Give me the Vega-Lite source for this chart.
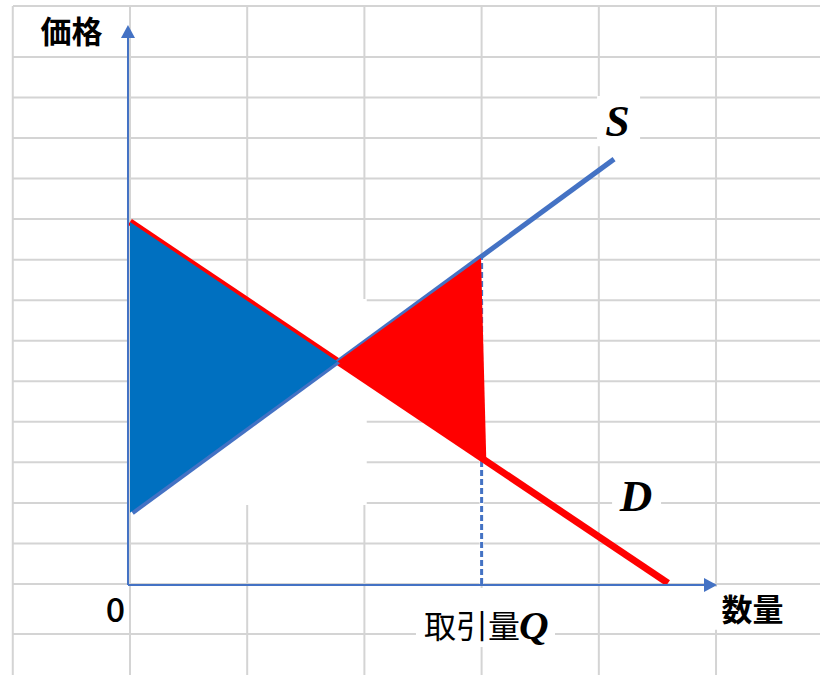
{
  "$schema": "https://vega.github.io/schema/vega-lite/v6.json",
  "width": 820,
  "height": 675,
  "padding": 0,
  "autosize": {"type": "none"},
  "background": "white",
  "config": {"view": {"stroke": null}},
  "datasets": {
    "vgrid": [
      {"q": -1, "pa": 14.257, "pb": -2.245}, {"q": 0, "pa": 14.257, "pb": -2.245}, {"q": 1, "pa": 14.257, "pb": -2.245},
      {"q": 2, "pa": 14.257, "pb": -2.245}, {"q": 3, "pa": 14.257, "pb": -2.245}, {"q": 4, "pa": 14.257, "pb": -2.245},
      {"q": 5, "pa": 14.257, "pb": -2.245}
    ],
    "hgrid": [
      {"p": -1.233, "qa": -0.998, "qb": 5.887}, {"p": 0, "qa": -0.998, "qb": 5.887}, {"p": 1, "qa": -0.998, "qb": 5.887},
      {"p": 2, "qa": -0.998, "qb": 5.887}, {"p": 3, "qa": -0.998, "qb": 5.887}, {"p": 4, "qa": -0.998, "qb": 5.887},
      {"p": 5, "qa": -0.998, "qb": 5.887}, {"p": 6, "qa": -0.998, "qb": 5.887}, {"p": 7, "qa": -0.998, "qb": 5.887},
      {"p": 8, "qa": -0.998, "qb": 5.887}, {"p": 9, "qa": -0.998, "qb": 5.887}, {"p": 10, "qa": -0.998, "qb": 5.887},
      {"p": 11, "qa": -0.998, "qb": 5.887}, {"p": 12, "qa": -0.998, "qb": 5.887}, {"p": 13, "qa": -0.998, "qb": 5.887},
      {"p": 14.257, "qa": -0.998, "qb": 5.887}
    ],
    "blank": [
      {"q": 0.009, "q2": 2.02, "p": 1.95, "p2": 7.03},
      {"q": 3.985, "q2": 4.352, "p": 10.8, "p2": 12.04},
      {"q": 4.113, "q2": 4.531, "p": 1.7, "p2": 2.32},
      {"q": 2.44, "q2": 3.626, "p": -1.554, "p2": -0.099},
      {"q": 4.95, "q2": 5.8, "p": -1.13, "p2": -0.07}
    ],
    "supply": [{"q": 0.02, "p": 1.76}, {"q": 4.13, "p": 10.48}],
    "demand": [{"q": 0, "p": 8.93}, {"q": 4.59, "p": 0.02}],
    "consumer": [{"q": 0, "top": 8.93, "bottom": 1.76}, {"q": 1.77, "top": 5.49, "bottom": 5.49}],
    "deadweight": [
      {"q": 1.77, "top": 5.49, "bottom": 5.49},
      {"q": 2.995, "top": 8.04, "bottom": 3.1},
      {"q": 3.04, "top": 3.05, "bottom": 3.02}
    ],
    "tradeQ": [{"q": 3.0, "p": 0, "p2": 8.05}],
    "axisLines": [
      {"q": -0.017, "q2": -0.017, "p": -0.025, "p2": 13.52},
      {"q": -0.017, "q2": 4.915, "p": -0.025, "p2": -0.025}
    ],
    "arrows": [{"dir": "up", "q": -0.017, "p": 13.63}, {"dir": "right", "q": 4.953, "p": -0.025}]
  },
  "encoding": {
    "x": {"field": "q", "type": "quantitative", "scale": {"domain": [-1.109, 5.887], "nice": false, "zero": false}, "axis": null},
    "y": {"field": "p", "type": "quantitative", "scale": {"domain": [-2.245, 14.405], "nice": false, "zero": false}, "axis": null}
  },
  "layer": [
    {
      "data": {"name": "hgrid"},
      "mark": {"type": "rule", "color": "#D4D4D4", "strokeWidth": 2},
      "encoding": {"x": {"field": "qa", "type": "quantitative"}, "x2": {"field": "qb"}, "y": {"field": "p", "type": "quantitative"}}
    },
    {
      "data": {"name": "vgrid"},
      "mark": {"type": "rule", "color": "#D4D4D4", "strokeWidth": 2},
      "encoding": {"x": {"field": "q", "type": "quantitative"}, "y": {"field": "pa", "type": "quantitative"}, "y2": {"field": "pb"}}
    },
    {
      "data": {"name": "blank"},
      "mark": {"type": "rect", "color": "white"},
      "encoding": {"x2": {"field": "q2"}, "y2": {"field": "p2"}}
    },
    {
      "data": {"name": "tradeQ"},
      "mark": {"type": "rule", "color": "white", "strokeWidth": 4},
      "encoding": {"y2": {"field": "p2"}}
    },
    {
      "data": {"name": "tradeQ"},
      "mark": {"type": "rule", "color": "#4472C4", "strokeWidth": 3, "strokeDash": [6, 3]},
      "encoding": {"y2": {"field": "p2"}}
    },
    {
      "data": {"name": "demand"},
      "mark": {"type": "line", "color": "#FF0000", "strokeWidth": 7, "strokeCap": "butt"},
      "encoding": {}
    },
    {
      "data": {"name": "supply"},
      "mark": {"type": "line", "color": "#4472C4", "strokeWidth": 5, "strokeCap": "butt"},
      "encoding": {}
    },
    {
      "data": {"name": "consumer"},
      "mark": {"type": "area", "color": "#0070C0", "opacity": 1},
      "encoding": {"y": {"field": "top", "type": "quantitative"}, "y2": {"field": "bottom"}}
    },
    {
      "data": {"name": "deadweight"},
      "mark": {"type": "area", "color": "#FF0000", "opacity": 1},
      "encoding": {"y": {"field": "top", "type": "quantitative"}, "y2": {"field": "bottom"}}
    },
    {
      "data": {"name": "axisLines"},
      "mark": {"type": "rule", "color": "#4472C4", "strokeWidth": 2},
      "encoding": {"x2": {"field": "q2"}, "y2": {"field": "p2"}}
    },
    {
      "data": {"name": "arrows"},
      "mark": {"type": "point", "filled": true, "size": 196, "color": "#4472C4", "opacity": 1, "strokeWidth": 0},
      "encoding": {
        "shape": {"field": "dir", "type": "nominal", "scale": {"domain": ["up", "right"], "range": ["M-1,0.93L0,-0.93L1,0.93Z", "M-0.93,-1L0.93,0L-0.93,1Z"]}, "legend": null}
      }
    },
    {
      "data": {"values": [{"label": "価格", "q": -0.499, "p": 13.345}]},
      "mark": {"type": "text", "font": "Noto Sans CJK JP", "fontSize": 31, "fontWeight": "bold", "align": "center", "baseline": "alphabetic", "color": "black"},
      "encoding": {"text": {"field": "label"}}
    },
    {
      "data": {"values": [{"label": "数量", "q": 5.311, "p": -0.913}]},
      "mark": {"type": "text", "font": "Noto Sans CJK JP", "fontSize": 31, "fontWeight": "bold", "align": "center", "baseline": "alphabetic", "color": "black"},
      "encoding": {"text": {"field": "label"}}
    },
    {
      "data": {"values": [{"label": "0", "q": -0.124, "p": -0.937}]},
      "mark": {"type": "text", "font": "Noto Sans CJK JP", "fontSize": 34, "fontWeight": 500, "align": "center", "baseline": "alphabetic", "color": "black"},
      "encoding": {"text": {"field": "label"}}
    },
    {
      "data": {"values": [{"label": "取引量", "q": 3.328, "p": -1.332}]},
      "mark": {"type": "text", "font": "Noto Sans CJK JP", "fontSize": 32, "fontWeight": "normal", "align": "right", "baseline": "alphabetic", "color": "black"},
      "encoding": {"text": {"field": "label"}}
    },
    {
      "data": {"values": [{"label": "Q", "q": 3.319, "p": -1.357}]},
      "mark": {"type": "text", "font": "Liberation Serif", "fontSize": 41, "fontWeight": "bold", "fontStyle": "italic", "align": "left", "baseline": "alphabetic", "color": "black"},
      "encoding": {"text": {"field": "label"}}
    },
    {
      "data": {"values": [{"label": "S", "q": 4.16, "p": 11.05}]},
      "mark": {"type": "text", "font": "Liberation Serif", "fontSize": 44, "fontWeight": "bold", "fontStyle": "italic", "align": "center", "baseline": "alphabetic", "color": "black"},
      "encoding": {"text": {"field": "label"}}
    },
    {
      "data": {"values": [{"label": "D", "q": 4.317, "p": 1.8}]},
      "mark": {"type": "text", "font": "Liberation Serif", "fontSize": 45, "fontWeight": "bold", "fontStyle": "italic", "align": "center", "baseline": "alphabetic", "color": "black"},
      "encoding": {"text": {"field": "label"}}
    }
  ]
}
